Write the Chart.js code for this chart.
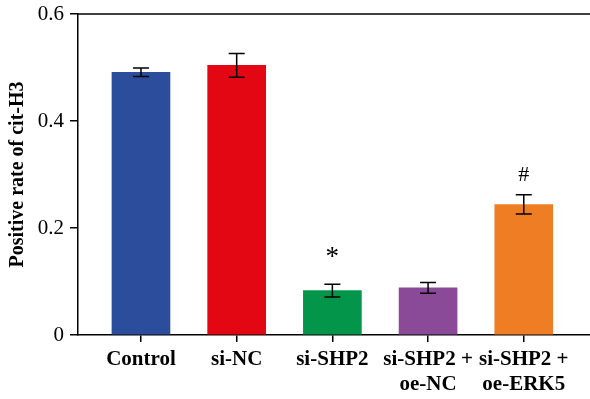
<!DOCTYPE html>
<html>
<head>
<meta charset="utf-8">
<script src="https://cdn.jsdelivr.net/npm/chart.js@4/dist/chart.umd.min.js"></script>
<style>
  html, body { margin: 0; padding: 0; background: #ffffff; }
  #wrap { width: 590px; height: 399px; position: relative; }
</style>
</head>
<body>
<div id="wrap"><canvas id="chart"></canvas></div>
<script>
// Groups along the x axis
const categories = ['Control', 'si-NC', 'si-SHP2', ['si-SHP2 +', 'oe-NC'], ['si-SHP2 +', 'oe-ERK5']];
// Mean positive rate of cit-H3 per group
const means = [0.491, 0.504, 0.083, 0.088, 0.244];
// Error (± half-range) per group
const errors = [0.008, 0.022, 0.012, 0.010, 0.018];
// Significance marks above the bars
const marks = ['', '', '*', '', '#'];
// Bar fill colours
const colors = ['#2c4d9c', '#e30613', '#03964a', '#8a4a98', '#ef7d24'];
// Y tick values
const yTicks = [0, 0.2, 0.4, 0.6];

const serif = '"Liberation Serif", "Times New Roman", serif';

const errorBars = {
  id: 'errorBars',
  afterDatasetsDraw(chart) {
    const { ctx } = chart;
    const xs = chart.scales.x, ys = chart.scales.y;
    ctx.save();
    ctx.strokeStyle = '#000';
    ctx.lineWidth = 1.5;
    means.forEach((m, i) => {
      const x = xs.getPixelForValue(i);
      const yt = ys.getPixelForValue(m + errors[i]);
      const yb = ys.getPixelForValue(m - errors[i]);
      const hw = 8;
      ctx.beginPath();
      ctx.moveTo(x, yt); ctx.lineTo(x, yb);
      ctx.moveTo(x - hw, yt); ctx.lineTo(x + hw, yt);
      ctx.moveTo(x - hw, yb); ctx.lineTo(x + hw, yb);
      ctx.stroke();
    });
    // significance marks
    ctx.fillStyle = '#000';
    ctx.textAlign = 'center';
    ctx.textBaseline = 'middle';
    marks.forEach((t, i) => {
      if (!t) return;
      const x = xs.getPixelForValue(i);
      const yt = ys.getPixelForValue(means[i] + errors[i]);
      if (t === '*') {
        ctx.font = '27px ' + serif;
        ctx.fillText(t, x, yt - 26);
      } else {
        ctx.font = '22px ' + serif;
        ctx.fillText(t, x, yt - 20);
      }
    });
    // top frame line
    const a = chart.chartArea;
    ctx.beginPath();
    ctx.lineWidth = 1.5;
    ctx.moveTo(a.left, a.top);
    ctx.lineTo(a.right, a.top);
    ctx.stroke();
    ctx.restore();
  }
};

new Chart(document.getElementById('chart'), {
  type: 'bar',
  data: {
    datasets: [{
      data: means.map((v, i) => ({ x: i, y: v })),
      backgroundColor: colors,
      borderWidth: 0,
      barThickness: 58
    }]
  },
  options: {
    responsive: true,
    maintainAspectRatio: false,
    animation: false,
    layout: { padding: { top: 14, right: 0, left: 0, bottom: 0 } },
    plugins: { legend: { display: false }, tooltip: { enabled: false } },
    scales: {
      x: {
        type: 'linear',
        offset: false,
        min: -0.658,
        max: 4.692,
        afterBuildTicks(scale) { scale.ticks = categories.map((c, i) => ({ value: i })); },
        afterFit(scale) { scale.height = 64; },
        ticks: {
          callback: (v) => categories[v],
          color: '#000',
          font: { family: serif, size: 21, weight: 'bold', lineHeight: 1.2 },
          padding: 5,
          maxRotation: 0,
          autoSkip: false
        },
        grid: { offset: false, drawOnChartArea: false, drawTicks: true, tickLength: 7, color: '#000', lineWidth: 1.5 },
        border: { display: true, color: '#000', width: 1.5 }
      },
      y: {
        min: 0,
        max: 0.6,
        afterBuildTicks(scale) { scale.ticks = yTicks.map(v => ({ value: v })); },
        afterFit(scale) { scale.width = 78; },
        ticks: {
          callback: (v) => String(v),
          color: '#000',
          font: { family: serif, size: 21, lineHeight: 0.6 },
          padding: 6
        },
        grid: { drawOnChartArea: false, drawTicks: true, tickLength: 8, color: '#000', lineWidth: 1.5 },
        border: { display: true, color: '#000', width: 1.5 },
        title: {
          display: true,
          text: 'Positive rate of cit-H3',
          color: '#000',
          font: { family: serif, size: 20, weight: 'bold', lineHeight: 1.2 },
          padding: { top: 6, bottom: 0 }
        }
      }
    }
  },
  plugins: [errorBars]
});
</script>
</body>
</html>
